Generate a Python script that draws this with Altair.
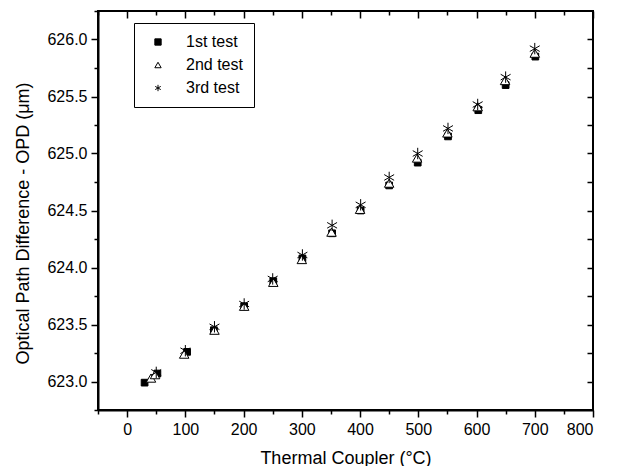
import altair as alt
import pandas as pd

series_names = ["1st test", "2nd test", "3rd test"]
series_shapes = ["square", "triangle-up", "M0,-1L0,1M-0.87,-0.5L0.87,0.5M-0.87,0.5L0.87,-0.5"]
series_fills = ["black", "white", "transparent"]
series_strokes = ["black", "black", "black"]
series_sizes = [45, 90, 130]

x_test1 = [30, 52, 103, 149, 201, 251, 301, 352, 401, 450, 499, 551, 603, 650, 701]
y_test1 = [622.99, 623.07, 623.26, 623.45, 623.66, 623.88, 624.08, 624.30, 624.50,
           624.72, 624.92, 625.15, 625.38, 625.60, 625.85]

x_test2 = [41, 48, 98, 150, 201, 251, 300, 351, 400, 450, 498, 550, 602, 649, 700]
y_test2 = [623.03, 623.06, 623.24, 623.45, 623.66, 623.87, 624.07, 624.31, 624.51,
           624.74, 624.96, 625.18, 625.41, 625.64, 625.88]

x_test3 = [50, 100, 150, 201, 250, 301, 352, 401, 450, 499, 551, 602, 650, 700]
y_test3 = [623.08, 623.27, 623.48, 623.68, 623.90, 624.11, 624.37, 624.55, 624.79,
           625.00, 625.22, 625.43, 625.67, 625.92]

x_major = [0, 100, 200, 300, 400, 500, 600, 700, 800]
x_minor = [-50, 50, 150, 250, 350, 450, 550, 650, 750]
y_major = [623.0, 623.5, 624.0, 624.5, 625.0, 625.5, 626.0]
y_minor = [622.75, 623.25, 623.75, 624.25, 624.75, 625.25, 625.75, 626.25]
y_right = [623.0, 623.25, 623.5, 623.75, 624.0, 624.25, 624.5, 624.75, 625.0,
           625.25, 625.5, 625.75, 626.0]

rows = []
for name, xs, ys in zip(series_names, [x_test1, x_test2, x_test3], [y_test1, y_test2, y_test3]):
    for a, b in zip(xs, ys):
        rows.append({"series": name, "temp": a, "opd": b})
df = pd.DataFrame(rows)

FONT = "Liberation Sans"

xscale = alt.Scale(domain=[-50, 800], nice=False, zero=False)
yscale = alt.Scale(domain=[622.75, 626.25], nice=False, zero=False)
shape_scale = alt.Scale(domain=series_names, range=series_shapes)
fill_scale = alt.Scale(domain=series_names, range=series_fills)
stroke_scale = alt.Scale(domain=series_names, range=series_strokes)

legend = alt.Legend(
    orient="none", legendX=36, legendY=12, title=None,
    strokeColor="black", fillColor="white", padding=11,
    labelFont=FONT, labelFontSize=16, labelColor="black", labelOffset=20,
    symbolOffset=5, symbolSize=40, symbolStrokeWidth=1,
    rowPadding=7,
)

x_main_axis = alt.Axis(
    orient="bottom", values=x_major, format="d", tickSize=7, labelPadding=4,
    labelFont=FONT, labelFontSize=16, labelColor="black",
    domainColor="black", domainWidth=2, tickColor="black", tickWidth=1.5,
    grid=False, title="Thermal Coupler (°C)", titleFont=FONT, titleFontSize=18,
    titleFontWeight="normal", titleColor="black", titleY=53,
    titleBaseline="alphabetic")
y_main_axis = alt.Axis(
    orient="left", values=y_major, format=".1f", tickSize=7, labelPadding=4,
    labelFont=FONT, labelFontSize=16, labelColor="black",
    domainColor="black", domainWidth=2, tickColor="black", tickWidth=1.5,
    grid=False, title="Optical Path Difference - OPD (μm)", titleFont=FONT,
    titleFontSize=18, titleFontWeight="normal", titleColor="black",
    titleX=-70, titleY=212, titleBaseline="alphabetic")

series_layers = []
for i, (name, size) in enumerate(zip(series_names, series_sizes)):
    layer = alt.Chart(df).transform_filter(
        alt.datum.series == name
    ).mark_point(size=size, strokeWidth=1, opacity=1).encode(
        x=alt.X("temp:Q", scale=xscale, axis=x_main_axis if i == 0 else None),
        y=alt.Y("opd:Q", scale=yscale, axis=y_main_axis if i == 0 else None),
        shape=alt.Shape("series:N", scale=shape_scale, legend=legend),
        fill=alt.Fill("series:N", scale=fill_scale, legend=legend),
        stroke=alt.Stroke("series:N", scale=stroke_scale, legend=legend),
    )
    series_layers.append(layer)

inv = alt.Chart(df).mark_point(opacity=0)

minor_bl = inv.encode(
    x=alt.X("temp:Q", scale=xscale, axis=alt.Axis(
        orient="bottom", values=x_minor, tickSize=4, labels=False, domain=False,
        grid=False, title=None, tickColor="black", tickWidth=1.5)),
    y=alt.Y("opd:Q", scale=yscale, axis=alt.Axis(
        orient="left", values=y_minor, tickSize=4, labels=False, domain=False,
        grid=False, title=None, tickColor="black", tickWidth=1.5)),
)

major_tr = inv.encode(
    x=alt.X("temp:Q", scale=xscale, axis=alt.Axis(
        orient="top", values=x_major, tickSize=7, offset=-7, labels=False,
        domain=False, grid=False, title=None, tickColor="black", tickWidth=1.5)),
    y=alt.Y("opd:Q", scale=yscale, axis=alt.Axis(
        orient="right", values=y_right, tickSize=6, offset=-6, labels=False,
        domain=False, grid=False, title=None, tickColor="black", tickWidth=1.5)),
)

minor_t = inv.encode(
    x=alt.X("temp:Q", scale=xscale, axis=alt.Axis(
        orient="top", values=x_minor, tickSize=4, offset=-4, labels=False,
        domain=False, grid=False, title=None, tickColor="black", tickWidth=1.5)),
    y=alt.Y("opd:Q", scale=yscale, axis=None),
)

chart = alt.layer(*series_layers, minor_bl, major_tr, minor_t).resolve_axis(
    x="independent", y="independent"
).properties(
    width=495, height=399,
    autosize=alt.AutoSizeParams(type="none"),
    padding={"left": 90, "top": 3, "right": 15, "bottom": 56},
).configure_view(stroke="black", strokeWidth=2)

chart.save("out.html", embed_options={"renderer": "svg", "actions": False})
